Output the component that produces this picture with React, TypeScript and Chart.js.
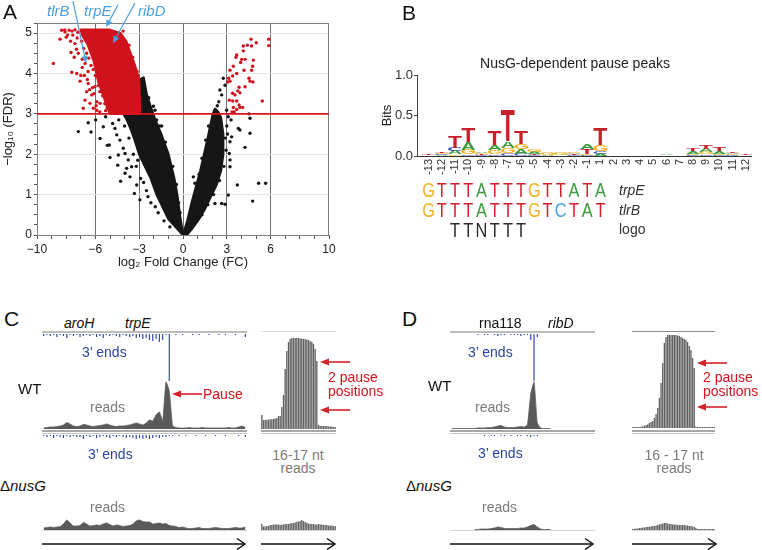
import React, { useEffect, useRef } from 'react';
import { Chart, registerables } from 'chart.js';

Chart.register(...registerables);
const FONT = '"Liberation Sans", Arial, Helvetica, sans-serif';
Chart.defaults.font.family = FONT;
Chart.defaults.color = '#222';

// ================= Panel A: volcano plot data =================
const A_X_TICKS = [-10, -9, -8, -7, -6, -5, -4, -3, -2, -1, 0, 1, 2, 3, 4, 5, 6, 7, 8, 9, 10];
const A_X_LABELS = [-10, -6, -3, 0, 3, 6, 10];
const A_X_GUIDES = [-6, -3, 0, 3, 6];
const A_Y_TICKS = [0, 0.25, 0.5, 0.75, 1, 1.25, 1.5, 1.75, 2, 2.25, 2.5, 2.75, 3, 3.25, 3.5, 3.75, 4, 4.25, 4.5, 4.75, 5, 5.25];
const A_Y_MAX = 5.25;
const FDR_THRESHOLD = 3;

// significant, up (log2FC > 0)
const UP_RED = [
  [4.66, 4.85], [5.87, 4.85], [5.87, 4.69], [5.02, 4.76], [4.13, 4.68], [4.41, 4.7], [4.7, 4.68], [4.13, 4.56],
  [3.68, 4.46], [3.63, 4.4], [4.02, 4.35], [3.95, 4.27], [4.25, 4.35], [4.82, 4.33], [3.45, 4.18], [3.22, 4.08],
  [4.77, 4.18], [4.18, 4.08], [4.7, 4.08], [3.68, 4.0], [3.4, 3.94], [3.13, 3.88], [3.06, 3.79], [3.22, 3.81],
  [4.52, 3.88], [4.59, 3.81], [4.79, 3.79], [4.25, 3.67], [3.84, 3.66], [3.75, 3.57], [3.9, 3.52], [3.4, 3.51],
  [3.56, 3.47], [3.17, 3.34], [3.4, 3.32], [3.68, 3.32], [5.43, 3.32], [3.9, 3.16], [4.09, 3.16], [3.68, 3.11],
  [3.51, 3.05], [3.36, 3.05], [3.84, 3.22], [3.45, 3.16],
];
// significant, down (log2FC < 0), scattered around the dense cluster
const DOWN_RED = [
  [-8.88, 4.25], [-8.42, 4.85], [-8.31, 5.07], [-7.67, 4.52], [-7.62, 4.03], [-7.05, 3.81], [-6.83, 3.14], [-6.71, 3.34],
  [-6.6, 3.55], [-7.28, 4.0], [-6.49, 3.75], [-6.37, 3.26], [-6.14, 3.14], [-6.25, 3.47], [-8.08, 5.03], [-7.4, 4.74],
  [-7.17, 4.5], [-6.71, 4.25], [-5.91, 3.09], [-5.68, 3.26], [-6.03, 3.67], [-5.57, 3.84], [-7.9, 4.95], [-8.1, 5.08],
  [-7.3, 4.6], [-6.9, 4.35], [-6.5, 4.05], [-6.2, 3.65], [-5.9, 3.3], [-5.7, 3.05], [-4.1, 5.05], [-3.7, 4.7],
  [-3.45, 4.4], [-3.15, 4.05], [-5.3, 3.08], [-4.6, 3.05],
  [-7.8, 5.07], [-7.6, 5.05], [-7.4, 5.08], [-7.2, 5.02], [-7.55, 4.95], [-7.25, 4.88], [-6.95, 4.8], [-6.8, 4.62],
  [-6.6, 4.5], [-6.45, 4.38], [-6.3, 4.2], [-6.15, 4.1], [-6.0, 3.95], [-5.8, 3.7], [-5.7, 3.55], [-5.5, 3.45],
  [-5.35, 3.25], [-5.2, 3.15], [-6.9, 4.15], [-7.0, 3.95], [-6.4, 3.6], [-6.1, 3.5], [-5.95, 3.2], [-7.7, 4.8],
  [-8.0, 4.9], [-7.45, 4.4], [-6.75, 3.95], [-6.55, 3.85],
];
// not significant, scattered around the dense V
const NS_BLACK = [
  [-7.17, 2.56], [-6.3, 2.55], [-6.49, 2.78], [-5.68, 2.39], [-5.98, 2.85], [-5.3, 2.93], [-5.46, 2.68], [-5.18, 2.22],
  [-5.0, 1.92], [-5.05, 2.23], [-4.47, 1.73], [-4.43, 1.98], [-4.27, 1.33], [-3.97, 1.53], [-3.86, 1.65], [-3.63, 1.44],
  [-3.33, 1.03], [-3.17, 1.24], [-2.95, 0.87], [-4.66, 2.64], [-4.54, 2.48], [-4.32, 2.35], [-4.82, 2.76], [-4.09, 2.15],
  [-3.97, 2.02], [-3.75, 1.86], [-3.52, 1.69], [-1.46, 2.7], [-1.8, 2.85], [-2.03, 3.19], [-1.92, 3.09], [-2.72, 3.75],
  [-2.6, 3.59], [-2.49, 3.34], [-2.83, 3.84], [-3.4, 2.0], [-3.2, 1.7], [-2.9, 1.4], [-2.5, 1.1], [-2.2, 0.8],
  [-1.7, 0.55], [-4.0, 2.7], [-4.4, 2.85], [-3.7, 2.4], [-3.1, 1.85], [-2.7, 1.3], [-2.4, 0.95], [-1.9, 0.7],
  [-1.3, 0.35], [-0.9, 0.2], [-0.45, 1.25], [-0.7, 1.7], [-1.2, 2.3], [-1.6, 2.7], [-0.3, 0.8], [-0.2, 0.55],
  [-2.35, 3.4], [-2.1, 3.0],
  [4.52, 3.0], [4.59, 2.89], [4.59, 2.52], [4.25, 2.17], [5.18, 1.28], [5.66, 1.28], [4.77, 0.84], [3.72, 1.24],
  [3.1, 0.99], [2.88, 0.76], [2.65, 0.78], [3.9, 2.6], [3.79, 2.64], [3.29, 2.85], [3.33, 2.43], [3.17, 2.02],
  [3.22, 1.86], [2.53, 3.59], [2.65, 3.47], [2.76, 3.88], [2.88, 3.71], [3.1, 2.93], [2.99, 3.09], [2.19, 3.09],
  [0.71, 1.44], [0.82, 1.28], [2.19, 0.78], [3.22, 2.31], [3.22, 1.69], [2.9, 2.4], [2.95, 2.1], [2.8, 1.7],
  [2.5, 1.35], [2.1, 1.0], [1.7, 0.75], [1.3, 0.5], [0.95, 0.35], [1.1, 1.5], [1.3, 1.9], [1.55, 2.35],
  [1.75, 2.7], [2.35, 3.2], [2.45, 3.3], [3.0, 2.7], [3.05, 2.5],
];
// outlines of the regions where points overlap completely
const DENSE_LEFT_ARM = [
  [0, 0], [-0.5, 0.2], [-1.0, 0.4], [-1.4, 0.7], [-1.8, 1.0], [-2.2, 1.4], [-2.6, 1.7], [-3.0, 2.0], [-3.3, 2.35],
  [-3.6, 2.65], [-3.9, 2.9], [-4.1, 3.0], [-2.95, 3.0], [-2.95, 3.85], [-2.7, 3.9], [-2.5, 3.5], [-2.2, 3.15],
  [-1.9, 2.85], [-1.5, 2.5], [-1.0, 2.0], [-0.6, 1.4], [-0.4, 1.0], [-0.2, 0.45],
];
const DENSE_RIGHT_ARM = [
  [0, 0], [0.3, 0.35], [0.6, 0.8], [0.9, 1.2], [1.2, 1.6], [1.45, 2.0], [1.7, 2.4], [1.9, 2.75], [2.05, 3.0],
  [2.2, 3.12], [2.4, 3.05], [2.6, 2.9], [2.75, 2.5], [2.75, 2.0], [2.6, 1.6], [2.3, 1.25], [1.9, 0.95], [1.5, 0.65],
  [1.1, 0.4], [0.6, 0.15], [0.25, 0.0],
];
const DENSE_RED_CLUSTER = [
  [-7.0, 5.08], [-5.0, 5.08], [-4.3, 5.0], [-3.9, 4.8], [-3.6, 4.5], [-3.3, 4.2], [-3.0, 3.85], [-2.95, 3.0],
  [-5.0, 3.0], [-5.4, 3.4], [-5.8, 3.8], [-6.1, 4.3], [-6.5, 4.7], [-6.9, 4.95],
];
const HIGHLIGHT_GENES = ['tlrB', 'trpE', 'ribD'];
const HIGHLIGHT_X = [-6.64, -5.27, -4.79];
const HIGHLIGHT_Y = [4.26, 5.15, 4.75];

// ================= Panel B: sequence logo data =================
const LOGO_POSITIONS = ['-13', '-12', '-11', '-10', '-9', '-8', '-7', '-6', '-5', '-4', '-3', '-2', '-1', '1', '2', '3', '4', '5', '6', '7', '8', '9', '10', '11', '12'];
const BITS_T = [0.01, 0.02, 0.15, 0.18, 0.01, 0.18, 0.38, 0.16, 0.01, 0, 0, 0.01, 0.06, 0.2, 0, 0, 0, 0, 0.005, 0.005, 0.03, 0.04, 0.04, 0.02, 0.01];
const BITS_A = [0.005, 0.01, 0.04, 0.09, 0.02, 0.06, 0.08, 0.06, 0.03, 0.01, 0.005, 0.02, 0.07, 0.03, 0, 0, 0, 0, 0.01, 0.005, 0.03, 0.04, 0.03, 0.02, 0.005];
const BITS_G = [0.005, 0.02, 0.02, 0.06, 0.015, 0.05, 0.07, 0.06, 0.03, 0.03, 0.025, 0.02, 0.02, 0.08, 0, 0, 0, 0, 0.005, 0.005, 0.02, 0.03, 0.02, 0.01, 0.005];
const BITS_C = [0.005, 0.01, 0.04, 0.02, 0.01, 0.02, 0.03, 0.03, 0.01, 0.005, 0.005, 0.01, 0.01, 0.03, 0, 0, 0, 0, 0.005, 0, 0.01, 0.02, 0.01, 0.01, 0.005];
const LOGO_Y_TICKS = [0, 0.5, 1];
const SEQ_TRPE = 'GTTTATTTGTTATA';
const SEQ_TLRB = 'GTTTATTTGTCTAT';
const SEQ_LOGO = 'TTNTTT';
const SEQ_LOGO_START = 2; // first letter sits at position -11

// ================= Panels C/D: browser tracks =================
const C_WT_ENDS = [2, 1, 2, 1, 3, 1, 2, 4, 1, 2, 1, 3, 2, 1, 2, 1, 3, 2, 4, 1, 2, 1, 2, 3, 1, 2, 3, 2, 4, 3, 5, 4, 6, 7, 5, 8, 6, 1, 47, 0, 1, 0, 1, 0, 0, 1, 0, 1, 0, 0, 1, 0, 0, 1, 0, 1, 0, 0, 1, 0, 0, 3];
const C_WT_READS = [1, 1.5, 2, 2, 2.5, 3, 4, 6.5, 5, 3, 2.5, 3, 4.5, 4, 3, 2.5, 3, 3.5, 4, 5, 4, 3, 2.5, 3, 3, 3.5, 4, 5, 6, 5, 4, 6, 9, 8, 14, 17, 8, 47, 38, 3, 1.5, 1, 1, 1, 1.5, 1, 1, 1, 1.5, 1, 1, 1, 1, 1, 1, 1, 1.5, 1, 1, 2, 3, 1.5];
const C_DN_ENDS = [1, 2, 1, 3, 1, 2, 3, 1, 2, 1, 2, 2, 4, 1, 2, 1, 3, 2, 1, 2, 3, 1, 2, 1, 2, 3, 2, 3, 4, 3, 4, 3, 4, 3, 2, 3, 2, 2, 1, 1, 0, 1, 0, 1, 0, 0, 1, 0, 0, 1, 0, 0, 1, 0, 0, 1, 0, 0, 0, 1, 0, 2];
const C_DN_READS = [2, 2.5, 3, 2.5, 3, 3.5, 6, 10, 7, 4, 4, 4.5, 7.5, 6, 4, 4.5, 5, 4.5, 6, 7, 5.5, 4, 5, 4.5, 3.5, 4, 4.5, 6, 9, 10, 8.5, 8, 8, 6, 6.5, 7, 6, 6.5, 4.5, 4, 3.5, 2.5, 3, 2, 1.5, 1.5, 2, 2.5, 1.5, 1.5, 1.5, 2, 2.5, 2, 1.5, 1.5, 1.5, 2, 2.5, 2, 2, 3];
const C_ZOOM_WT = [14, 9, 9, 9, 9.5, 9.5, 10, 10, 10.5, 11, 13, 13, 22, 34, 60, 78, 87, 90, 91, 91, 91, 91, 91, 90.5, 90.5, 90, 90, 89.5, 89, 88, 87, 85, 80, 68, 4, 3, 3, 3, 3, 3, 2.5, 2.5, 2.5, 2, 2];
const C_ZOOM_DN = [6, 3.5, 3.5, 4, 4, 5, 5, 5.5, 5.5, 5.5, 5.5, 5, 5.5, 5.5, 6, 6, 6, 6.5, 7, 7, 7.5, 8, 8.5, 9, 10, 9, 8, 7, 6.5, 6, 6, 6, 5.5, 5.5, 6, 5.5, 5.5, 5, 5, 5, 4.5, 4.5, 4.5, 4, 4];

const D_WT_ENDS = [0, 0, 0, 0, 0, 0, 0, 0, 1, 0, 1, 1, 0, 1, 2, 1, 1, 0, 1, 1, 1, 2, 1, 1, 6, 47, 3, 0, 0, 0, 0, 0, 0, 0, 0, 0, 0, 0, 0, 0, 0, 0, 0, 0];
const D_WT_READS = [0.5, 0.5, 0.5, 0.5, 0.5, 0.5, 0.5, 0.5, 1, 1, 1, 1.5, 1.5, 2, 3, 3.5, 2, 1.5, 1.5, 1.5, 2, 2.5, 2, 4, 35, 47, 6, 1, 0.5, 0.5, 0.5, null, null, null, null, null, null, null, null, null, null, null, null, null];
const D_DN_ENDS = [0, 0, 0, 0, 0, 0, 0, 0, 0, 0, 1, 0, 1, 1, 0, 1, 1, 0, 1, 0, 1, 1, 0, 1, 2, 1, 1, 0, 0, 0, 0, 0, 0, 0, 0, 0, 0, 0, 0, 0, 0, 0, 0, 0];
const D_DN_READS = [null, null, null, null, null, null, null, 0.5, 0.5, 1, 1, 1, 1.5, 2, 3, 2.5, 1.5, 1.5, 1.5, 1.5, 1.5, 2, 2, 3, 4.5, 5.5, 3, 1, 0.5, 0.5, 0.5, null, null, null, null, null, null, null, null, null, null, null, null, null];
const D_ZOOM_WT = [1, 1, 1, 1, 1, 1.5, 1.5, 2.5, 3, 3.5, 5, 6, 7, 10, 14, 20, 30, 45, 65, 85, 91, 93, 93, 93, 93, 93, 93, 92.5, 92, 91, 90, 89, 88, 86, 82, 78, 70, 60, 1.5, 1, 1, 1, 1, 1, 1, 1, 1, 1, 1, 1];
const D_ZOOM_DN = [1, 1, 1.5, 1.5, 2, 2, 2.5, 2.5, 3, 3, 3.5, 3.5, 4, 4, 4.5, 5, 5.5, 6, 6.5, 7, 7, 6.5, 6, 6, 5.5, 5.5, 5.5, 5, 5, 5, 5, 5, 4.5, 4.5, 4, 4, 3.5, 3, 2, 1, 1, 1, 1, 1, 1, 1, 1, 1, 1, 1];

// ================= colours =================
const RED = '#d0121c';
const BLACK = '#161616';
const LIGHT_BLUE = '#4a9fe0';
const ENDS_BLUE = '#2c43a3';
const READS_GRAY = '#5a5a5a';
const ZOOM_GRAY = '#606060';
const NUC_COLORS: Record<string, string> = { A: '#3f9b3f', C: '#3a55b4', G: '#f0b020', T: '#c8202a' };
const SEQ_COLORS: Record<string, string> = { A: '#3f9b3f', C: '#4aa5e6', G: '#f0b323', T: '#d3202c' };

const toXY = (arr: number[][]) => arr.map(([x, y]) => ({ x, y }));
const minus = (v: number) => String(v).replace('-', '\u2212');

const baseOptions = (scales: any, padding: any = 0) => ({
  responsive: false,
  animation: false,
  events: [],
  layout: { padding },
  plugins: { legend: { display: false }, tooltip: { enabled: false } },
  scales,
});

// ---------- Panel A config ----------
const volcanoPlugin = {
  id: 'volcanoExtras',
  beforeDatasetsDraw(chart: any) {
    const { ctx, chartArea: a, scales } = chart;
    const x = scales.x, y = scales.y;
    ctx.save();
    ctx.beginPath();
    ctx.rect(a.left, a.top, a.right - a.left, a.bottom - a.top);
    ctx.clip();
    const poly = (pts: number[][], color: string) => {
      ctx.beginPath();
      pts.forEach(([vx, vy], i) => {
        const px = x.getPixelForValue(vx), py = y.getPixelForValue(vy);
        if (i) ctx.lineTo(px, py); else ctx.moveTo(px, py);
      });
      ctx.closePath();
      ctx.fillStyle = color;
      ctx.fill();
      ctx.lineJoin = 'round';
      ctx.lineWidth = 2.5;
      ctx.strokeStyle = color;
      ctx.stroke();
    };
    poly(DENSE_LEFT_ARM, BLACK);
    poly(DENSE_RIGHT_ARM, BLACK);
    poly(DENSE_RED_CLUSTER, RED);
    ctx.restore();
    ctx.save();
    ctx.strokeStyle = '#808080';
    ctx.lineWidth = 1;
    ctx.strokeRect(a.left + 0.5, a.top + 0.5, a.right - a.left - 1, a.bottom - a.top);
    ctx.restore();
  },
  afterDraw(chart: any) {
    const { ctx, scales } = chart;
    const x = scales.x, y = scales.y;
    const starts = [[73, 1], [118, 5], [135, 3]];
    const textAt = [[47, 16], [84, 16], [138, 16]];
    ctx.save();
    ctx.strokeStyle = LIGHT_BLUE;
    ctx.fillStyle = LIGHT_BLUE;
    ctx.lineWidth = 1.2;
    HIGHLIGHT_GENES.forEach((g, i) => {
      const tx = x.getPixelForValue(HIGHLIGHT_X[i]);
      const ty = y.getPixelForValue(HIGHLIGHT_Y[i]);
      const [sx, sy] = starts[i];
      const ang = Math.atan2(ty - sy, tx - sx);
      const hl = 7, hw = 3.2;
      const bx = tx - hl * Math.cos(ang), by = ty - hl * Math.sin(ang);
      ctx.beginPath();
      ctx.moveTo(sx, sy);
      ctx.lineTo(bx, by);
      ctx.stroke();
      ctx.beginPath();
      ctx.moveTo(tx, ty);
      ctx.lineTo(bx + hw * Math.sin(ang), by - hw * Math.cos(ang));
      ctx.lineTo(bx - hw * Math.sin(ang), by + hw * Math.cos(ang));
      ctx.closePath();
      ctx.fill();
      ctx.font = 'italic 15px ' + FONT;
      ctx.textBaseline = 'alphabetic';
      ctx.fillText(g, textAt[i][0], textAt[i][1]);
    });
    ctx.restore();
  },
};

const volcanoConfig = () => ({
  type: 'scatter',
  data: {
    datasets: [
      { data: [{ x: -10, y: FDR_THRESHOLD }, { x: 10, y: FDR_THRESHOLD }], showLine: true, borderColor: '#d8141e', borderWidth: 1.6, pointRadius: 0 },
      { data: toXY(UP_RED), backgroundColor: RED, borderWidth: 0, pointRadius: 1.7 },
      { data: toXY(DOWN_RED), backgroundColor: RED, borderWidth: 0, pointRadius: 1.7 },
      { data: toXY(NS_BLACK), backgroundColor: BLACK, borderWidth: 0, pointRadius: 1.7 },
    ],
  },
  options: baseOptions(
    {
      x: {
        type: 'linear', min: -10, max: 10,
        afterBuildTicks: (s: any) => { s.ticks = A_X_TICKS.map((v) => ({ value: v })); },
        afterFit: (s: any) => { s.height = 40; },
        ticks: { autoSkip: false, maxRotation: 0, font: { size: 12 }, padding: 3, color: '#222', callback: (v: number) => (A_X_LABELS.includes(v) ? minus(v) : '') },
        grid: { color: (c: any) => (c.tick && A_X_GUIDES.includes(c.tick.value) ? '#707070' : 'rgba(0,0,0,0)'), tickColor: '#555', tickLength: 4 },
        border: { color: '#808080' },
        title: { display: true, text: 'log\u2082 Fold Change (FC)', font: { size: 13 }, color: '#222', padding: { top: 0, bottom: 5 } },
      },
      y: {
        type: 'linear', min: 0, max: A_Y_MAX,
        afterBuildTicks: (s: any) => { s.ticks = A_Y_TICKS.map((v) => ({ value: v })); },
        afterFit: (s: any) => { s.width = 37; },
        ticks: { autoSkip: false, font: { size: 12 }, padding: 2, color: '#222', callback: (v: number) => (Number.isInteger(v) ? String(v) : '') },
        grid: { color: (c: any) => (c.tick && Number.isInteger(c.tick.value) && c.tick.value > 0 ? '#e4e4e4' : 'rgba(0,0,0,0)'), tickColor: '#555', tickLength: 3 },
        border: { color: '#808080' },
        title: { display: true, text: '\u2212log\u2081\u2080 (FDR)', font: { size: 13 }, color: '#222', padding: { top: 1, bottom: 0 } },
      },
    },
    { top: 23, right: 21, left: 0, bottom: 0 }
  ),
  plugins: [volcanoPlugin],
});

// ---------- Panel B config ----------
function drawLetter(ctx: any, ch: string, x0: number, x1: number, yTop: number, yBot: number, color: string) {
  if (yBot - yTop < 0.3) return;
  ctx.save();
  ctx.font = 'bold 100px ' + FONT;
  const m = ctx.measureText(ch);
  const gw = m.actualBoundingBoxLeft + m.actualBoundingBoxRight;
  const gh = m.actualBoundingBoxAscent + m.actualBoundingBoxDescent;
  ctx.translate(x0, yTop);
  ctx.scale((x1 - x0) / gw, (yBot - yTop) / gh);
  ctx.fillStyle = color;
  ctx.textAlign = 'left';
  ctx.textBaseline = 'alphabetic';
  ctx.fillText(ch, m.actualBoundingBoxLeft, m.actualBoundingBoxAscent);
  ctx.restore();
}

const logoPlugin = {
  id: 'logoLetters',
  afterDatasetsDraw(chart: any) {
    const { ctx, scales } = chart;
    const x = scales.x, y = scales.y;
    LOGO_POSITIONS.forEach((_, i) => {
      const stack = [
        { n: 'A', h: BITS_A[i] }, { n: 'C', h: BITS_C[i] }, { n: 'G', h: BITS_G[i] }, { n: 'T', h: BITS_T[i] },
      ].sort((a, b) => a.h - b.h);
      let base = 0;
      const x0 = x.getPixelForValue(i - 0.52), x1 = x.getPixelForValue(i + 0.52);
      stack.forEach((s) => {
        if (s.h > 0) drawLetter(ctx, s.n, x0, x1, y.getPixelForValue(base + s.h), y.getPixelForValue(base), NUC_COLORS[s.n]);
        base += s.h;
      });
    });
  },
  afterDraw(chart: any) {
    const { ctx, scales } = chart;
    const x = scales.x;
    const rows: [string, number, number, boolean][] = [
      [SEQ_TRPE, 0, 157, true], [SEQ_TLRB, 0, 177, true], [SEQ_LOGO, SEQ_LOGO_START, 197, false],
    ];
    ctx.save();
    ctx.font = '21px ' + FONT;
    ctx.textAlign = 'center';
    ctx.textBaseline = 'alphabetic';
    rows.forEach(([seq, start, base, colored]) => {
      seq.split('').forEach((c, k) => {
        const px = x.getPixelForValue(start + k);
        ctx.save();
        ctx.translate(px, base);
        ctx.scale(0.78, 1);
        ctx.fillStyle = colored ? SEQ_COLORS[c] || '#222' : '#2a2a2a';
        ctx.fillText(c, 0, 0);
        ctx.restore();
      });
    });
    ctx.restore();
  },
};

const logoConfig = () => ({
  type: 'scatter',
  data: { datasets: [{ data: LOGO_POSITIONS.map((_, i) => ({ x: i, y: 0 })), pointRadius: 0 }] },
  options: baseOptions(
    {
      x: {
        type: 'linear', min: -0.88, max: 24.4,
        afterBuildTicks: (s: any) => { s.ticks = LOGO_POSITIONS.map((_, i) => ({ value: i })); },
        afterFit: (s: any) => { s.height = 94; },
        ticks: { autoSkip: false, minRotation: 90, maxRotation: 90, font: { size: 11 }, padding: 3, color: '#333', callback: (v: number) => LOGO_POSITIONS[v] },
        grid: { display: false, drawTicks: false },
        border: { color: '#333', width: 1 },
      },
      y: {
        type: 'linear', min: 0, max: 1,
        afterBuildTicks: (s: any) => { s.ticks = LOGO_Y_TICKS.map((v) => ({ value: v })); },
        afterFit: (s: any) => { s.width = 37; },
        ticks: { font: { size: 13 }, padding: 1, color: '#333', callback: (v: number) => v.toFixed(1) },
        grid: { drawOnChartArea: false, drawTicks: true, tickLength: 3, color: '#444' },
        border: { color: '#444', width: 1 },
        title: { display: true, text: 'Bits', font: { size: 13 }, color: '#222', padding: { top: 0, bottom: 0 } },
      },
    },
    { top: 35, right: 2, left: 0, bottom: 0 }
  ),
  plugins: [logoPlugin],
});

// ---------- track configs ----------
const trackArea = (values: (number | null)[], maxY: number, color: string) => () => ({
  type: 'line',
  data: {
    labels: values.map((_, i) => i),
    datasets: [{ data: values, fill: 'origin', backgroundColor: color, borderColor: color, borderWidth: 0.8, pointRadius: 0, tension: 0.15, spanGaps: false }],
  },
  options: baseOptions({ x: { display: false, offset: true }, y: { display: false, min: 0, max: maxY } }),
});

const trackBars = (values: number[], maxY: number, color: string, barPct: number, reverse = false) => () => ({
  type: 'bar',
  data: {
    labels: values.map((_, i) => i),
    datasets: [{ data: values, backgroundColor: color, barPercentage: barPct, categoryPercentage: 1, borderWidth: 0 }],
  },
  options: baseOptions({ x: { display: false }, y: { display: false, min: 0, max: maxY, reverse } }),
});

// ---------- components ----------
function ChartBox({ x, y, w, h, make }: { x: number; y: number; w: number; h: number; make: () => any }) {
  const ref = useRef<HTMLCanvasElement | null>(null);
  useEffect(() => {
    const chart = new Chart(ref.current as HTMLCanvasElement, make());
    return () => chart.destroy();
  }, []);
  return (
    <div style={{ position: 'absolute', left: x, top: y, width: w, height: h }}>
      <canvas ref={ref} width={w} height={h} style={{ width: w, height: h, display: 'block' }} />
    </div>
  );
}

function Txt({ x, y, size = 14, color = '#111', italic = false, anchor = 'start', children }: any) {
  const transform = anchor === 'middle' ? 'translateX(-50%)' : undefined;
  return (
    <div style={{ position: 'absolute', left: x, top: y - size * 0.5, fontSize: size, lineHeight: `${size}px`, color, fontStyle: italic ? 'italic' : 'normal', whiteSpace: 'nowrap', transform }}>
      {children}
    </div>
  );
}

function HLine({ x, y, w, h = 1, color }: any) {
  return <div style={{ position: 'absolute', left: x, top: y, width: w, height: h, background: color }} />;
}

const TRACKS = [
  { x: 42, w: 205 },
  { x: 261, w: 75 },
  { x: 450, w: 145 },
  { x: 632, w: 83 },
];

export default function App() {
  const blackArrows = [[42, 245], [261, 335], [450, 593], [632, 716]];
  const redArrows = [[172, 202, 394], [320, 350, 362], [320, 350, 410], [697, 727, 363], [697, 727, 407]];
  return (
    <div style={{ position: 'absolute', left: 0, top: 0, width: 762, height: 550, background: '#fff', fontFamily: FONT, overflow: 'hidden', color: '#111' }}>
      <ChartBox x={0} y={0} w={350} h={275} make={volcanoConfig} />
      <ChartBox x={380} y={40} w={382} h={210} make={logoConfig} />

      {/* track frame lines */}
      <HLine x={42} y={331} w={205} h={2} color="#bdbdbd" />
      <HLine x={261} y={331} w={75} h={1} color="#e2e2e2" />
      <HLine x={450} y={331} w={145} h={2} color="#bdbdbd" />
      <HLine x={632} y={331} w={83} h={1} color="#8a8a8a" />
      {TRACKS.map((t, i) => (
        <React.Fragment key={i}>
          <HLine x={t.x} y={430} w={t.w} h={2} color="#a8a8a8" />
          <HLine x={t.x} y={433} w={t.w} h={1} color="#c6c6c6" />
          <HLine x={t.x} y={530} w={t.w} h={1} color="#d4d4d4" />
        </React.Fragment>
      ))}

      {/* Panel C tracks */}
      <ChartBox x={42} y={334} w={205} h={48} make={trackBars(C_WT_ENDS, 48, ENDS_BLUE, 0.35, true)} />
      <ChartBox x={42} y={381} w={205} h={48} make={trackArea(C_WT_READS, 48, READS_GRAY)} />
      <ChartBox x={42} y={435} w={205} h={6} make={trackBars(C_DN_ENDS, 6, ENDS_BLUE, 0.35, true)} />
      <ChartBox x={42} y={516} w={205} h={14} make={trackArea(C_DN_READS, 14, READS_GRAY)} />
      <ChartBox x={261} y={333} w={75} h={96} make={trackBars(C_ZOOM_WT, 96, ZOOM_GRAY, 0.8)} />
      <ChartBox x={261} y={516} w={75} h={14} make={trackBars(C_ZOOM_DN, 14, ZOOM_GRAY, 0.8)} />

      {/* Panel D tracks */}
      <ChartBox x={450} y={334} w={145} h={48} make={trackBars(D_WT_ENDS, 48, ENDS_BLUE, 0.35, true)} />
      <ChartBox x={450} y={381} w={145} h={48} make={trackArea(D_WT_READS, 48, READS_GRAY)} />
      <ChartBox x={450} y={435} w={145} h={6} make={trackBars(D_DN_ENDS, 6, ENDS_BLUE, 0.35, true)} />
      <ChartBox x={450} y={516} w={145} h={14} make={trackArea(D_DN_READS, 14, READS_GRAY)} />
      <ChartBox x={632} y={333} w={83} h={95} make={trackBars(D_ZOOM_WT, 95, ZOOM_GRAY, 0.8)} />
      <ChartBox x={632} y={516} w={83} h={14} make={trackBars(D_ZOOM_DN, 14, ZOOM_GRAY, 0.8)} />

      {/* panel letters */}
      <Txt x={3} y={11} size={21}>A</Txt>
      <Txt x={402} y={12} size={21}>B</Txt>
      <Txt x={4} y={318} size={21}>C</Txt>
      <Txt x={402} y={318} size={21}>D</Txt>

      {/* Panel B texts */}
      <Txt x={575} y={63} size={14} anchor="middle" color="#222">NusG-dependent pause peaks</Txt>
      <Txt x={619} y={190} size={14} italic color="#333">trpE</Txt>
      <Txt x={619} y={210} size={14} italic color="#333">tlrB</Txt>
      <Txt x={619} y={229} size={14} color="#333">logo</Txt>

      {/* Panel C texts */}
      <Txt x={64} y={323} size={14} italic>aroH</Txt>
      <Txt x={125} y={323} size={14} italic>trpE</Txt>
      <Txt x={18} y={388} size={15}>WT</Txt>
      <Txt x={0} y={485} size={15}>{'\u0394'}<i>nusG</i></Txt>
      <Txt x={82} y={352} size={14} color={ENDS_BLUE}>3{'\u2019'} ends</Txt>
      <Txt x={88} y={454} size={14} color={ENDS_BLUE}>3{'\u2019'} ends</Txt>
      <Txt x={90} y={407} size={14} color="#7b7b7b">reads</Txt>
      <Txt x={90} y={507} size={14} color="#7b7b7b">reads</Txt>
      <Txt x={203} y={394} size={14} color={RED}>Pause</Txt>
      <Txt x={328} y={377} size={14} color={RED}>2 pause</Txt>
      <Txt x={328} y={391} size={14} color={RED}>positions</Txt>
      <Txt x={298} y={455} size={14} anchor="middle" color="#7b7b7b">16-17 nt</Txt>
      <Txt x={298} y={468} size={14} anchor="middle" color="#7b7b7b">reads</Txt>

      {/* Panel D texts */}
      <Txt x={479} y={323} size={14}>rna118</Txt>
      <Txt x={548} y={323} size={14} italic>ribD</Txt>
      <Txt x={428} y={385} size={15}>WT</Txt>
      <Txt x={406} y={485} size={15}>{'\u0394'}<i>nusG</i></Txt>
      <Txt x={468} y={352} size={14} color={ENDS_BLUE}>3{'\u2019'} ends</Txt>
      <Txt x={478} y={453} size={14} color={ENDS_BLUE}>3{'\u2019'} ends</Txt>
      <Txt x={475} y={407} size={14} color="#7b7b7b">reads</Txt>
      <Txt x={482} y={507} size={14} color="#7b7b7b">reads</Txt>
      <Txt x={703} y={377} size={14} color={RED}>2 pause</Txt>
      <Txt x={703} y={391} size={14} color={RED}>positions</Txt>
      <Txt x={674} y={455} size={14} anchor="middle" color="#7b7b7b">16 - 17 nt</Txt>
      <Txt x={674} y={468} size={14} anchor="middle" color="#7b7b7b">reads</Txt>

      <svg width={762} height={550} style={{ position: 'absolute', left: 0, top: 0, pointerEvents: 'none' }}>
        {blackArrows.map(([a, b], i) => (
          <g key={'b' + i} stroke="#111" strokeWidth={1.5} fill="none">
            <line x1={a} y1={544} x2={b} y2={544} />
            <polyline points={`${b - 8},${538.5} ${b},${544} ${b - 8},${549.5}`} />
          </g>
        ))}
        {redArrows.map(([h, t, yy], i) => (
          <g key={'r' + i}>
            <line x1={h + 6} y1={yy} x2={t} y2={yy} stroke="#d2232a" strokeWidth={1.6} />
            <polygon points={`${h},${yy} ${h + 9},${yy - 3.5} ${h + 9},${yy + 3.5}`} fill="#d2232a" />
          </g>
        ))}
      </svg>
    </div>
  );
}
